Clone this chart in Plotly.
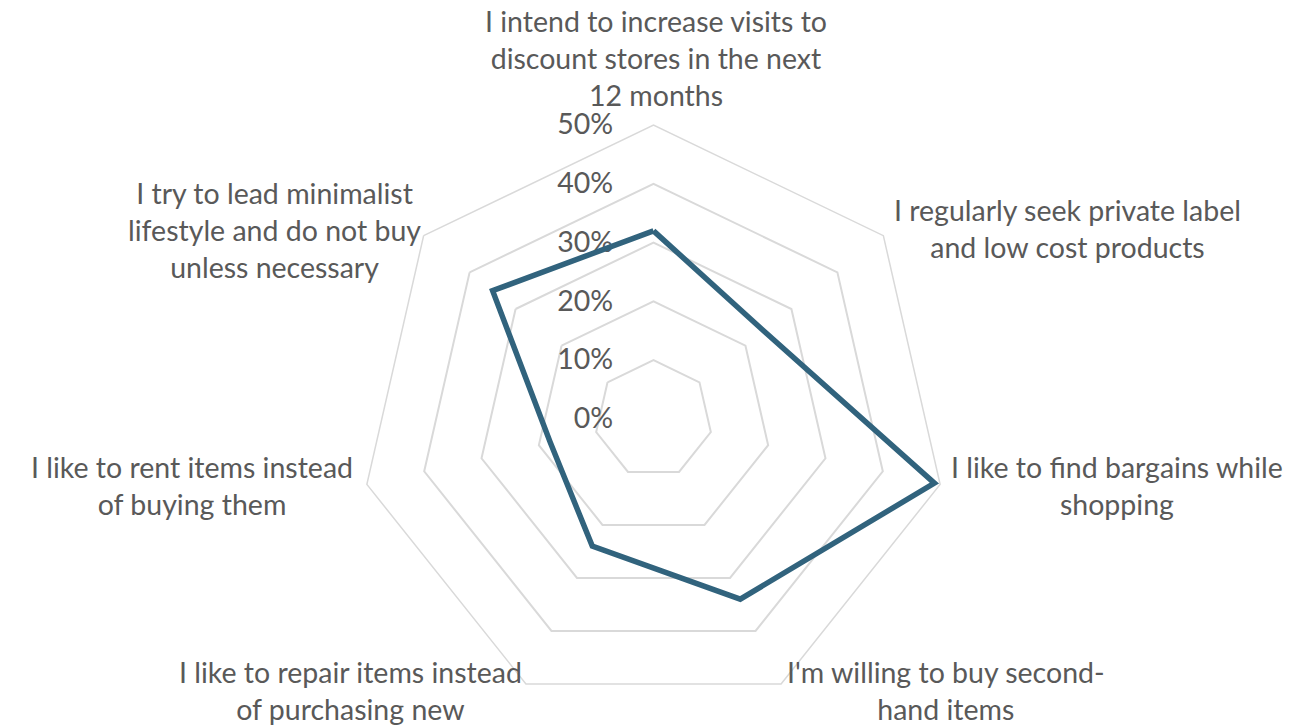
import plotly.graph_objects as go

categories = [
    "I intend to increase visits to<br>discount stores in the next<br>12 months",
    "I regularly seek private label<br>and low cost products",
    "I like to find bargains while<br>shopping",
    "I'm willing to buy second-<br>hand items",
    "I like to repair items instead<br>of purchasing new",
    "I like to rent items instead<br>of buying them",
    "I try to lead minimalist<br>lifestyle and do not buy<br>unless necessary",
]
shares = [0.32, 0.24, 0.49, 0.34, 0.24, 0.18, 0.35]
radial_ticks = [0, 0.1, 0.2, 0.3, 0.4, 0.5]
radial_labels = ["0%", "10%", "20%", "30%", "40%", "50%"]

# where each category label sits on the page (pixels from top-left)
label_x = [648, 1059, 1109, 938, 343, 184, 266]
label_y = [50, 221, 477, 682, 682, 477, 222]

text_color = "#595959"
grid_color = "#d9d9d9"
W, H = 1301, 727

fig = go.Figure()
fig.add_trace(go.Scatterpolar(
    r=shares + shares[:1],
    theta=categories + categories[:1],
    mode="lines",
    line=dict(color="#31637d", width=5.5),
    hoverinfo="skip",
))

for name, x, y in zip(categories, label_x, label_y):
    fig.add_annotation(
        text=name, x=x / W, y=1 - y / H, xref="paper", yref="paper",
        xanchor="center", yanchor="middle", showarrow=False,
        font=dict(family="Lato", size=28.5, color=text_color),
    )

fig.update_layout(
    width=W, height=H,
    margin=dict(l=0, r=0, t=0, b=0),
    paper_bgcolor="white",
    showlegend=False,
    font=dict(family="Lato", size=28.5, color=text_color),
    polar=dict(
        domain=dict(x=[351.5 / W, 939.5 / W], y=[22 / H, 610 / H]),
        bgcolor="white",
        gridshape="linear",
        angularaxis=dict(
            type="category",
            categoryarray=categories,
            rotation=90,
            direction="clockwise",
            showgrid=False,
            showline=True,
            linecolor=grid_color,
            linewidth=1.5,
            ticks="",
            showticklabels=False,
        ),
        radialaxis=dict(
            range=[0, 0.5],
            tickmode="array",
            tickvals=radial_ticks,
            # trailing spaces push the labels off the axis like the original
            ticktext=[t + "\u2003\u2002" for t in radial_labels],
            angle=90,
            tickangle=90,
            side="counterclockwise",
            showline=False,
            ticks="",
            gridcolor=grid_color,
            gridwidth=1.5,
            tickfont=dict(family="Lato", size=28.5, color=text_color),
            layer="below traces",
        ),
    ),
)

fig.write_html("out.html")
